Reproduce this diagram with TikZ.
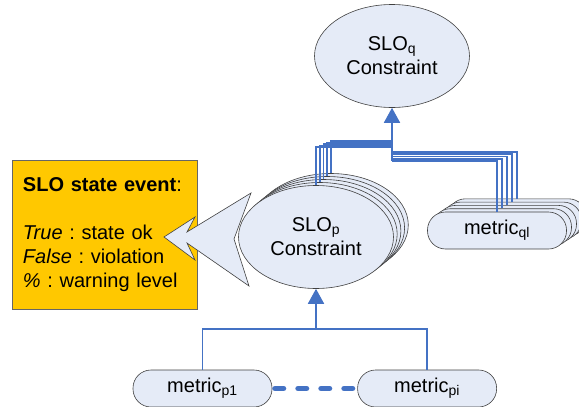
\documentclass[tikz,border=0pt]{standalone}
\usepackage{fontspec}
\setmainfont{Liberation Sans}
\usetikzlibrary{positioning,arrows.meta,shapes.geometric}
\definecolor{linkblue}{RGB}{68,114,196}
\definecolor{nodefill}{RGB}{229,235,247}
\definecolor{eventgold}{RGB}{255,200,0}
\tikzset{
  slo/.style={x=1pt,y=-1pt,font=\fontsize{20}{24}\selectfont\frenchspacing,
    >={Triangle[length=15pt,width=16pt]}},
  cons/.style={ellipse,draw=black!75,fill=nodefill,line width=0.6pt,
    minimum width=155pt,minimum height=103pt,inner sep=0pt,align=center},
  metric/.style={rectangle,rounded corners=18pt,draw=black!75,fill=nodefill,
    line width=0.6pt,minimum width=139pt,minimum height=37pt,inner sep=0pt},
  link/.style={draw=linkblue,line width=1.7pt},
  eventbox/.style={draw=black!60,fill=eventgold,line width=0.6pt,text width=163pt,
    inner xsep=11pt,inner ysep=0pt,minimum height=149pt,align=left},
  callout/.style={draw=black!75,fill=nodefill,line width=0.6pt},
}

\begin{document}
\begin{tikzpicture}[slo]
  \useasboundingbox (0,0) rectangle (579,407);
  \node[cons] (q) at (392,56) {SLO\textsubscript{q}\\Constraint};
  \foreach \k in {4,3,2,1}
    \node[cons] (p\k) at (316+3.7*\k,237-3*\k) {};
  \node[cons] (p0) at (316,237) {SLO\textsubscript{p}\\Constraint};
  \foreach \k in {4,3,2,1}
    \node[metric] (m\k) at (497+5*\k,230.5-3.3*\k) {};
  \node[metric] (m0) at (497,230.5) {metric\textsubscript{ql}};
  \node[metric] (mp1) at (202.5,388.5) {metric\textsubscript{p1}};
  \node[metric] (mpi) [right=85pt of mp1] {metric\textsubscript{pi}};
  \node[eventbox] (ev) at (104.5,234.5) {\textbf{SLO state event}:\\[24pt]
    \textit{True} : state ok\\ \textit{False} : violation\\ \textit{\%} : warning level};
  \draw[callout] (164,237) -- (195,217) -- (187,232) -- (251,193) -- (234,239)
    -- (249,286) -- (187,243) -- (195,260) -- cycle;

  \coordinate (jl) at (392,147);
  \coordinate (jr) at (392,161);
  \coordinate (jp) at (316,329);
  \foreach \k in {4,3,2,1,0}
    \draw[link] (p\k.north) |- ([yshift=1.5*\k pt]jl);
  \foreach \k in {4,3,2,1,0}
    \draw[link] (m\k.north) |- ([yshift=2.25*\k pt]jr);
  \draw[link,->] (jr) -- (q.south);
  \draw[link] (mp1.north) |- (jp) -| (mpi.north);
  \draw[link,->] (jp) -- (p0.south);
  \draw[linkblue,line width=5.5pt,line cap=round,dash pattern=on 8.5pt off 14.5pt,
    shorten <=2.75pt,shorten >=2.75pt] (mp1.east) -- (mpi.west);
\end{tikzpicture}
\end{document}
